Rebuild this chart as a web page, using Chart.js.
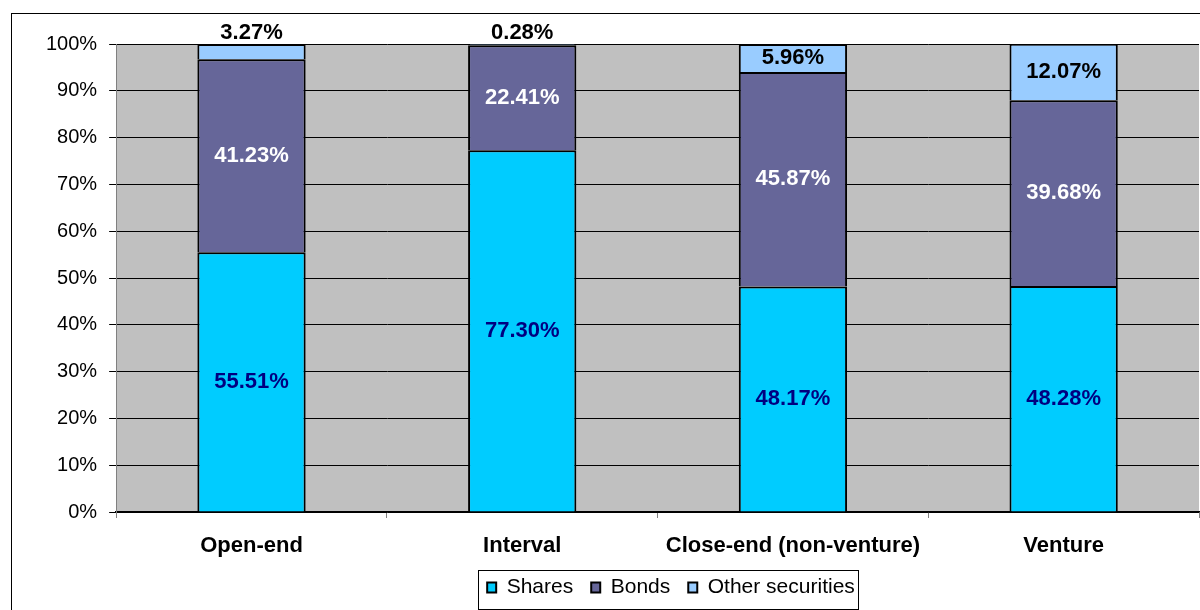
<!DOCTYPE html>
<html>
<head>
<meta charset="utf-8">
<script src="https://cdn.jsdelivr.net/npm/chart.js@4.4.1/dist/chart.umd.min.js"></script>
<style>
  html, body { margin: 0; padding: 0; background: #fff; }
  #wrap { width: 1200px; height: 610px; }
</style>
</head>
<body>
<div id="wrap"><canvas id="myChart" width="1200" height="610"></canvas></div>
<script>
const categories = ['Open-end', 'Interval', 'Close-end (non-venture)', 'Venture'];
const shares = [55.51, 77.30, 48.17, 48.28];
const bonds = [41.23, 22.41, 45.87, 39.68];
const otherSecurities = [3.27, 0.28, 5.96, 12.07];
const yTicks = [0, 10, 20, 30, 40, 50, 60, 70, 80, 90, 100];

const FONT = '"Liberation Sans", Arial, sans-serif';
const labelColors = ['#000080', '#FFFFFF', '#000000'];
const LEGEND_CENTER = 671;
const LEGEND_PAD = 18;
const LEGEND_FONT = 21;

// gray plot area and the thin frame round the whole chart
const backgroundPlugin = {
    id: 'plotBackground',
    beforeDraw(chart) {
        const { ctx, chartArea } = chart;
        ctx.save();
        ctx.fillStyle = '#fff';
        ctx.fillRect(0, 0, chart.width, chart.height);
        ctx.strokeStyle = '#000';
        ctx.lineWidth = 1;
        ctx.strokeRect(11.5, 13.5, chart.width + 20, chart.height + 20);
        ctx.fillStyle = '#C0C0C0';
        ctx.fillRect(chartArea.left, chartArea.top, chartArea.right - chartArea.left, chartArea.bottom - chartArea.top);
        ctx.restore();
    }
};

// percentage labels: centred in the segment, or above the bar when the segment is too thin
const valueLabelPlugin = {
    id: 'valueLabels',
    afterDatasetsDraw(chart) {
        const ctx = chart.ctx;
        ctx.save();
        ctx.font = 'bold 22px ' + FONT;
        ctx.textAlign = 'center';
        ctx.textBaseline = 'middle';
        chart.data.datasets.forEach((ds, di) => {
            const meta = chart.getDatasetMeta(di);
            meta.data.forEach((bar, i) => {
                const text = ds.data[i].toFixed(2) + '%';
                const h = bar.base - bar.y;
                if (h < 20) {
                    ctx.fillStyle = '#000';
                    ctx.fillText(text, bar.x, chart.chartArea.top - 11);
                } else {
                    ctx.fillStyle = labelColors[di];
                    ctx.fillText(text, bar.x, bar.y + h / 2);
                }
            });
        });
        ctx.restore();
    }
};

// move the legend off the canvas centre and frame its items
const legendBoxPlugin = {
    id: 'legendBox',
    afterUpdate(chart) {
        const legend = chart.legend;
        const shift = LEGEND_CENTER - (legend.left + legend.right) / 2;
        legend.left += shift;
        legend.right += shift;
    },
    afterDraw(chart) {
        const legend = chart.legend;
        if (!legend.lineWidths) { return; }
        const half = (legend.lineWidths[0] - LEGEND_PAD) / 2;
        const center = (legend.left + legend.right) / 2;
        const mid = legend.top + LEGEND_PAD + LEGEND_FONT / 2;
        const ctx = chart.ctx;
        ctx.save();
        ctx.strokeStyle = '#000';
        ctx.lineWidth = 1;
        const x0 = Math.round(center - half - 9) + 0.5;
        const x1 = Math.round(center + half + 3) + 0.5;
        ctx.strokeRect(x0, Math.round(mid - 18) + 0.5, x1 - x0, 39);
        ctx.restore();
    }
};

function makeDataset(label, values, color) {
    return {
        label: label,
        data: values,
        backgroundColor: color,
        borderColor: '#000',
        borderWidth: 2,
        categoryPercentage: 1,
        barPercentage: 0.4
    };
}

new Chart(document.getElementById('myChart'), {
    type: 'bar',
    data: {
        labels: categories,
        datasets: [
            makeDataset('Shares', shares, '#00CCFF'),
            makeDataset('Bonds', bonds, '#666699'),
            makeDataset('Other securities', otherSecurities, '#99CCFF')
        ]
    },
    options: {
        responsive: false,
        animation: false,
        devicePixelRatio: 1,
        layout: { padding: { top: 44, right: 1, left: 34, bottom: 2 } },
        plugins: {
            legend: {
                position: 'bottom',
                labels: {
                    boxWidth: 9,
                    boxHeight: 10,
                    padding: LEGEND_PAD,
                    color: '#000',
                    font: { family: FONT, size: LEGEND_FONT }
                }
            },
            tooltip: { enabled: false }
        },
        scales: {
            x: {
                stacked: true,
                afterFit(axis) { axis.height = 47; },
                grid: { drawOnChartArea: false, drawTicks: true, tickLength: 6, color: '#808080', offset: true },
                border: { color: '#000', width: 1.5 },
                ticks: {
                    color: '#000',
                    padding: 15,
                    maxRotation: 0,
                    font: { family: FONT, size: 22, weight: 'bold' }
                }
            },
            y: {
                stacked: true,
                min: 0,
                max: 100,
                afterBuildTicks(axis) { axis.ticks = yTicks.map(v => ({ value: v })); },
                grid: { color: '#000', lineWidth: 1, tickLength: 7 },
                border: { color: '#808080', width: 1 },
                ticks: {
                    color: '#000',
                    padding: 12,
                    font: { family: FONT, size: 20 },
                    callback: v => v + '%'
                }
            }
        }
    },
    plugins: [backgroundPlugin, valueLabelPlugin, legendBoxPlugin]
});
</script>
</body>
</html>
